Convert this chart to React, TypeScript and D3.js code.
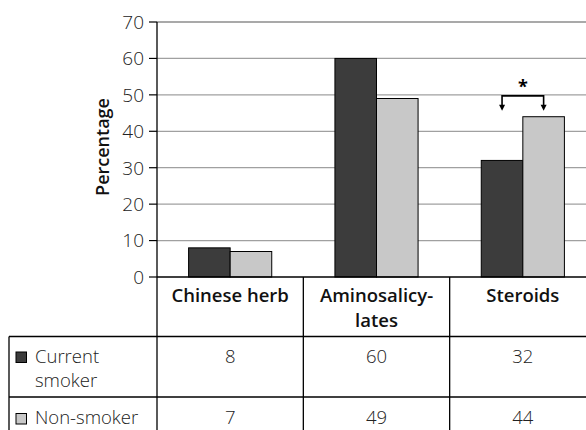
import React from "react";
import * as d3 from "d3";

const categories = ["Chinese herb", "Aminosalicylates", "Steroids"];
const categoryLines = [["Chinese herb"], ["Aminosalicy-", "lates"], ["Steroids"]];
const seriesNames = ["Current smoker", "Non-smoker"];
const seriesLabelLines = [["Current", "smoker"], ["Non-smoker"]];
const currentSmoker = [8, 60, 32];
const nonSmoker = [7, 49, 44];
const yTicks = [0, 10, 20, 30, 40, 50, 60, 70];
const colors = ["#3c3c3c", "#c8c8c8"];

const W = 586;
const H = 430;
const FONT = "'Open Sans', 'DejaVu Sans', sans-serif";

export default function App() {
  const series = [currentSmoker, nonSmoker];
  const y = d3.scaleLinear().domain([0, 70]).range([277, 22]);
  const x = d3.scaleBand<string>().domain(categories).range([157, 596]).padding(0);
  const bw = x.bandwidth();
  const inner = d3
    .scaleBand<string>()
    .domain(seriesNames)
    .range([0, bw])
    .paddingInner(0)
    .paddingOuter(0.76);

  const plotLeft = 157;
  const plotRight = 596;
  const tableLeft = 9;
  const headerBottom = 336.5;
  const row1Bottom = 397;
  const tableBottom = 440;

  const sx = x("Steroids")!;
  const b1 = sx + inner(seriesNames[0])! + inner.bandwidth() / 2;
  const b2 = sx + inner(seriesNames[1])! + inner.bandwidth() / 2;
  const bracketY = y(50) + 1;
  const arrowY = bracketY + 15;

  return (
    <svg
      width={W}
      height={H}
      style={{ position: "absolute", left: 0, top: 0, background: "#fff" }}
      fontFamily={FONT}
    >
      <rect x={0} y={0} width={W} height={H} fill="#fff" />
      {yTicks
        .filter((t) => t > 0)
        .map((t) => (
          <line
            key={"g" + t}
            x1={plotLeft}
            x2={plotRight}
            y1={y(t)}
            y2={y(t)}
            stroke={t === 70 ? "#555" : "#a0a0a0"}
            strokeWidth={1.2}
          />
        ))}
      {yTicks.map((t) => (
        <g key={"t" + t}>
          <line x1={149} x2={plotLeft} y1={y(t)} y2={y(t)} stroke="#000" strokeWidth={1.2} />
          <text
            x={144}
            y={y(t)}
            dy="0.36em"
            textAnchor="end"
            fontSize={19}
            fontWeight={300}
            fill="#222"
          >
            {t}
          </text>
        </g>
      ))}
      <text
        transform={`translate(103,147) rotate(-90)`}
        textAnchor="middle"
        dy="0.36em"
        fontSize={18}
        fontWeight={600}
        fill="#111"
      >
        Percentage
      </text>
      {categories.map((c, ci) =>
        series.map((s, si) => (
          <rect
            key={c + si}
            x={x(c)! + inner(seriesNames[si])!}
            y={y(s[ci])}
            width={inner.bandwidth()}
            height={y(0) - y(s[ci])}
            fill={colors[si]}
            stroke="#000"
            strokeWidth={1}
          />
        ))
      )}
      <path
        d={`M${b1},${arrowY - 5}V${bracketY}H${b2}V${arrowY - 5}`}
        fill="none"
        stroke="#000"
        strokeWidth={1.6}
      />
      {[b1, b2].map((bx, i) => (
        <path
          key={"ar" + i}
          d={`M${bx - 3},${arrowY - 6}L${bx + 3},${arrowY - 6}L${bx},${arrowY}Z`}
          fill="#000"
        />
      ))}
      <text
        x={(b1 + b2) / 2}
        y={bracketY - 3}
        textAnchor="middle"
        fontSize={18}
        fontWeight={700}
        fill="#000"
      >
        *
      </text>
      <line x1={plotLeft} x2={plotLeft} y1={y(70)} y2={tableBottom} stroke="#000" strokeWidth={1.3} />
      <line x1={plotLeft} x2={plotRight} y1={y(0)} y2={y(0)} stroke="#000" strokeWidth={1.3} />
      <line x1={tableLeft} x2={plotRight} y1={headerBottom} y2={headerBottom} stroke="#000" strokeWidth={1.3} />
      <line x1={tableLeft} x2={plotRight} y1={row1Bottom} y2={row1Bottom} stroke="#000" strokeWidth={1.3} />
      <line x1={tableLeft} x2={tableLeft} y1={headerBottom} y2={tableBottom} stroke="#000" strokeWidth={1.3} />
      {categories.map((c) => (
        <line
          key={"v" + c}
          x1={x(c)! + bw}
          x2={x(c)! + bw}
          y1={y(0)}
          y2={tableBottom}
          stroke="#000"
          strokeWidth={1.3}
        />
      ))}
      {categoryLines.map((lines, ci) =>
        lines.map((ln, li) => (
          <text
            key={"h" + ci + li}
            x={x(categories[ci])! + bw / 2}
            y={302 + li * 25}
            textAnchor="middle"
            fontSize={18.5}
            fontWeight={600}
            fill="#111"
          >
            {ln}
          </text>
        ))
      )}
      {seriesLabelLines.map((lines, si) => {
        const base = si === 0 ? 362.5 : 424;
        return (
          <g key={"sl" + si}>
            <rect
              x={16}
              y={base - 10.5}
              width={10.5}
              height={10.5}
              fill={colors[si]}
              stroke="#000"
              strokeWidth={1}
            />
            {lines.map((ln, li) => (
              <text
                key={li}
                x={35}
                y={base + li * 24}
                fontSize={18.5}
                fontWeight={300}
                fill="#222"
              >
                {ln}
              </text>
            ))}
          </g>
        );
      })}
      {series.map((s, si) =>
        s.map((v, ci) => (
          <text
            key={"val" + si + ci}
            x={x(categories[ci])! + bw / 2}
            y={si === 0 ? 363 : 424}
            textAnchor="middle"
            fontSize={18.5}
            fontWeight={300}
            fill="#222"
          >
            {v}
          </text>
        ))
      )}
    </svg>
  );
}
